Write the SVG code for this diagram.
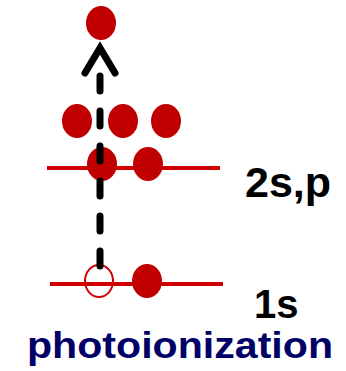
<svg xmlns="http://www.w3.org/2000/svg" width="346" height="371" viewBox="0 0 346 371">
<style>
.el{fill:#c00000}
.lvl{stroke:#d00000;stroke-width:4;fill:none}
.lbl{font-family:"Liberation Sans",Arial,sans-serif;font-weight:bold;fill:#000}
</style>
<rect width="346" height="371" fill="#fff"/>
<g id="level-2sp">
<line class="lvl" x1="47" y1="168" x2="220" y2="168"/>
<text class="lbl" x="245" y="197" font-size="43">2s,p</text>
</g>
<g id="level-1s">
<line class="lvl" x1="50" y1="284" x2="223" y2="284"/>
<text class="lbl" x="254" y="318" font-size="40">1s</text>
</g>
<g id="electrons-2p">
<ellipse class="el" cx="77" cy="121" rx="15" ry="17"/>
<ellipse class="el" cx="123" cy="121" rx="15" ry="17"/>
<ellipse class="el" cx="166" cy="121" rx="15" ry="17"/>
</g>
<g id="electrons-2s">
<ellipse class="el" cx="102" cy="164" rx="15" ry="17"/>
<ellipse class="el" cx="148" cy="164" rx="15" ry="17"/>
</g>
<g id="electrons-1s">
<ellipse cx="99" cy="281" rx="14" ry="16" fill="none" stroke="#d00000" stroke-width="2"/>
<ellipse class="el" cx="147" cy="281" rx="15" ry="17"/>
</g>
<g id="free-electron">
<ellipse class="el" cx="101" cy="23" rx="15" ry="17"/>
</g>
<g id="connectors">
<line x1="100" y1="266" x2="100" y2="76" stroke="#000" stroke-width="7" stroke-linecap="round" stroke-dasharray="15 20"/>
<polyline points="85,73 100,48 115,73" fill="none" stroke="#000" stroke-width="7" stroke-linecap="round" stroke-linejoin="miter"/>
</g>
<g id="caption">
<text x="27" y="358" font-family="'Liberation Sans',Arial,sans-serif" font-weight="bold" font-size="37" fill="#000066" textLength="306" lengthAdjust="spacingAndGlyphs">photoionization</text>
</g>
</svg>
